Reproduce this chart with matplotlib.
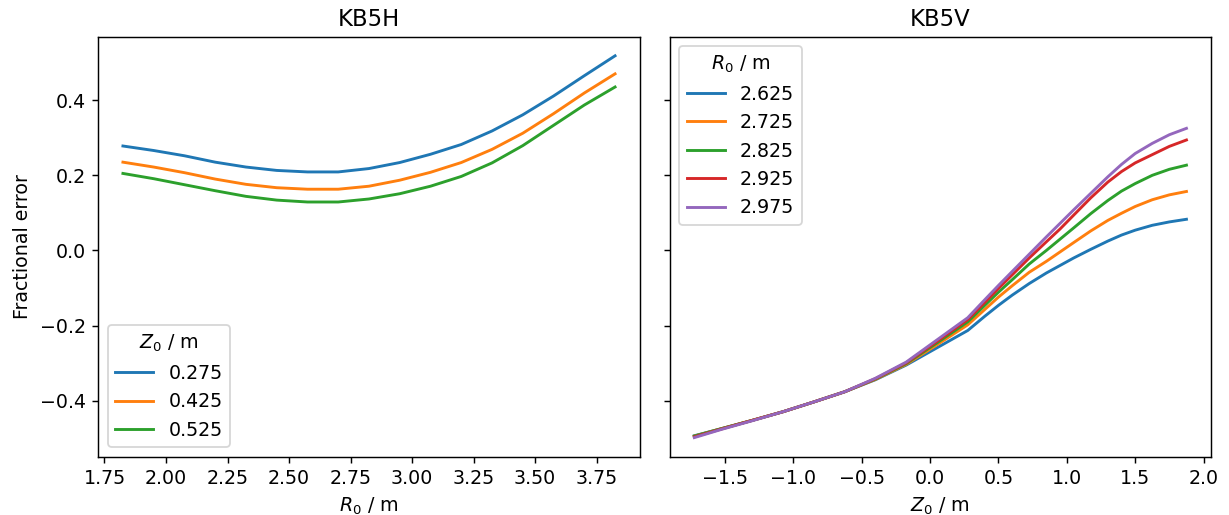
import matplotlib
matplotlib.use("Agg")
import matplotlib.pyplot as plt

# KB5H: fractional error versus major radius for several heights Z0
r0 = [1.825, 1.95, 2.075, 2.2, 2.325, 2.45, 2.575, 2.7, 2.825,
      2.95, 3.075, 3.2, 3.325, 3.45, 3.575, 3.7, 3.825]
kb5h_z0_labels = ["0.275", "0.425", "0.525"]
kb5h_z0_275 = [0.278, 0.266, 0.252, 0.235, 0.222, 0.213, 0.209, 0.209, 0.218,
               0.234, 0.256, 0.282, 0.318, 0.361, 0.411, 0.465, 0.518]
kb5h_z0_425 = [0.235, 0.222, 0.207, 0.190, 0.176, 0.167, 0.163, 0.163, 0.171,
               0.187, 0.208, 0.234, 0.269, 0.312, 0.364, 0.419, 0.470]
kb5h_z0_525 = [0.205, 0.191, 0.175, 0.159, 0.144, 0.134, 0.129, 0.129, 0.137,
               0.151, 0.171, 0.197, 0.233, 0.279, 0.333, 0.387, 0.435]

# KB5V: fractional error versus height for several major radii R0
z0 = [-1.725, -1.525, -1.3, -1.075, -0.85, -0.625, -0.4, -0.175, 0.05,
      0.275, 0.4, 0.5, 0.6, 0.725, 0.85, 0.95, 1.05, 1.175, 1.3, 1.4,
      1.5, 1.625, 1.75, 1.875]
kb5v_r0_labels = ["2.625", "2.725", "2.825", "2.925", "2.975"]
kb5v_r0_2625 = [-0.493, -0.474, -0.452, -0.429, -0.403, -0.376, -0.344, -0.305, -0.259,
                -0.213, -0.175, -0.146, -0.119, -0.088, -0.060, -0.040, -0.020, 0.003,
                0.025, 0.041, 0.054, 0.067, 0.076, 0.083]
kb5v_r0_2725 = [-0.494, -0.474, -0.452, -0.429, -0.403, -0.376, -0.343, -0.303, -0.251,
                -0.198, -0.157, -0.124, -0.094, -0.058, -0.029, -0.004, 0.021, 0.052,
                0.080, 0.099, 0.117, 0.135, 0.148, 0.157]
kb5v_r0_2825 = [-0.494, -0.474, -0.452, -0.429, -0.403, -0.376, -0.342, -0.301, -0.246,
                -0.190, -0.146, -0.111, -0.078, -0.036, 0.000, 0.030, 0.060, 0.098,
                0.133, 0.158, 0.178, 0.200, 0.216, 0.227]
kb5v_r0_2925 = [-0.496, -0.475, -0.452, -0.429, -0.403, -0.376, -0.341, -0.299, -0.242,
                -0.184, -0.138, -0.101, -0.065, -0.020, 0.023, 0.057, 0.094, 0.140,
                0.182, 0.210, 0.233, 0.255, 0.277, 0.294]
kb5v_r0_2975 = [-0.498, -0.476, -0.453, -0.429, -0.403, -0.376, -0.340, -0.297, -0.238,
                -0.179, -0.131, -0.093, -0.056, -0.010, 0.036, 0.072, 0.108, 0.152,
                0.196, 0.229, 0.258, 0.285, 0.308, 0.325]

plt.rcParams["font.size"] = 10.5
plt.rcParams["lines.linewidth"] = 1.6

DPI = 130
fig, (ax_h, ax_v) = plt.subplots(1, 2, sharey=True,
                                 figsize=(1229 / DPI, 515 / DPI), dpi=DPI)
fig.subplots_adjust(left=0.080, right=0.9854, bottom=0.1132, top=0.9287,
                    wspace=0.0555)

for series, label in zip([kb5h_z0_275, kb5h_z0_425, kb5h_z0_525], kb5h_z0_labels):
    ax_h.plot(r0, series, label=label)
ax_h.set_title("KB5H")
ax_h.set_xlabel("$R_0$ / m")
ax_h.set_ylabel("Fractional error", labelpad=4)
ax_h.legend(title="$Z_0$ / m", loc="lower left")

for series, label in zip([kb5v_r0_2625, kb5v_r0_2725, kb5v_r0_2825,
                          kb5v_r0_2925, kb5v_r0_2975], kb5v_r0_labels):
    ax_v.plot(z0, series, label=label)
ax_v.set_title("KB5V")
ax_v.set_xlabel("$Z_0$ / m")
ax_v.legend(title="$R_0$ / m", loc="upper left")

fig.savefig("out.png", dpi=DPI)
